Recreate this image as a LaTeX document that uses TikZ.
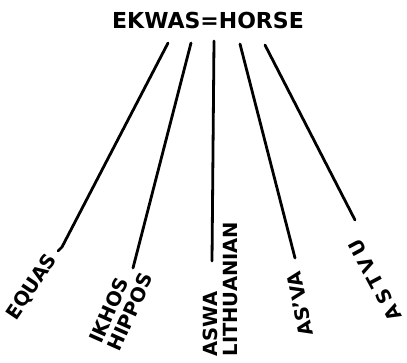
\documentclass[tikz,border=0pt]{standalone}
\usepackage{fontspec}
\setmainfont{DejaVu Sans}
\begin{document}
\begin{tikzpicture}[x=1pt,y=-1pt,
  lab/.style={font=\bfseries\fontsize{19.5}{20}\selectfont,inner sep=0pt,align=left},
  ttl/.style={font=\bfseries\fontsize{22}{22}\selectfont,inner sep=0pt},
  ray/.style={line width=2.8pt,line cap=round,line join=round}]
\useasboundingbox (0,0) rectangle (407,362);
\node[ttl] (title) at (208,20.5) {EKWAS=HORSE};
% labels
\node[lab,rotate=56] (equas) at (32,287) {EQUAS};
\node[lab,rotate=66] (ikhos) at (121,308) {IKHOS\\HIPPOS};
\node[lab,rotate=90] (aswa) at (220,289) {ASWA\\LITHUANIAN};
\node[lab,rotate=102] (asva) at (300,304) {AS’VA};
\node[lab,rotate=118] (astvu) at (375,280) {A\kern4pt S\kern4pt T\kern4pt V\kern4pt U};
% ray ends
\coordinate (t1) at (168,43);
\coordinate (t2) at (191,43);
\coordinate (t3) at (214,41);
\coordinate (t4) at (240,44);
\coordinate (t5) at (265,45);
\coordinate (b1) at (62,247);
\coordinate (h1) at (58,251);
\coordinate (b2) at (133,268);
\coordinate (b3) at (212,261);
\coordinate (b4) at (295,258);
\coordinate (b5) at (355,220);
\draw[ray] (t1) -- (b1) -- (h1);
\draw[ray] (t2) -- (b2);
\draw[ray] (t3) -- (b3);
\draw[ray] (t4) -- (b4);
\draw[ray] (t5) -- (b5);
\end{tikzpicture}
\end{document}
